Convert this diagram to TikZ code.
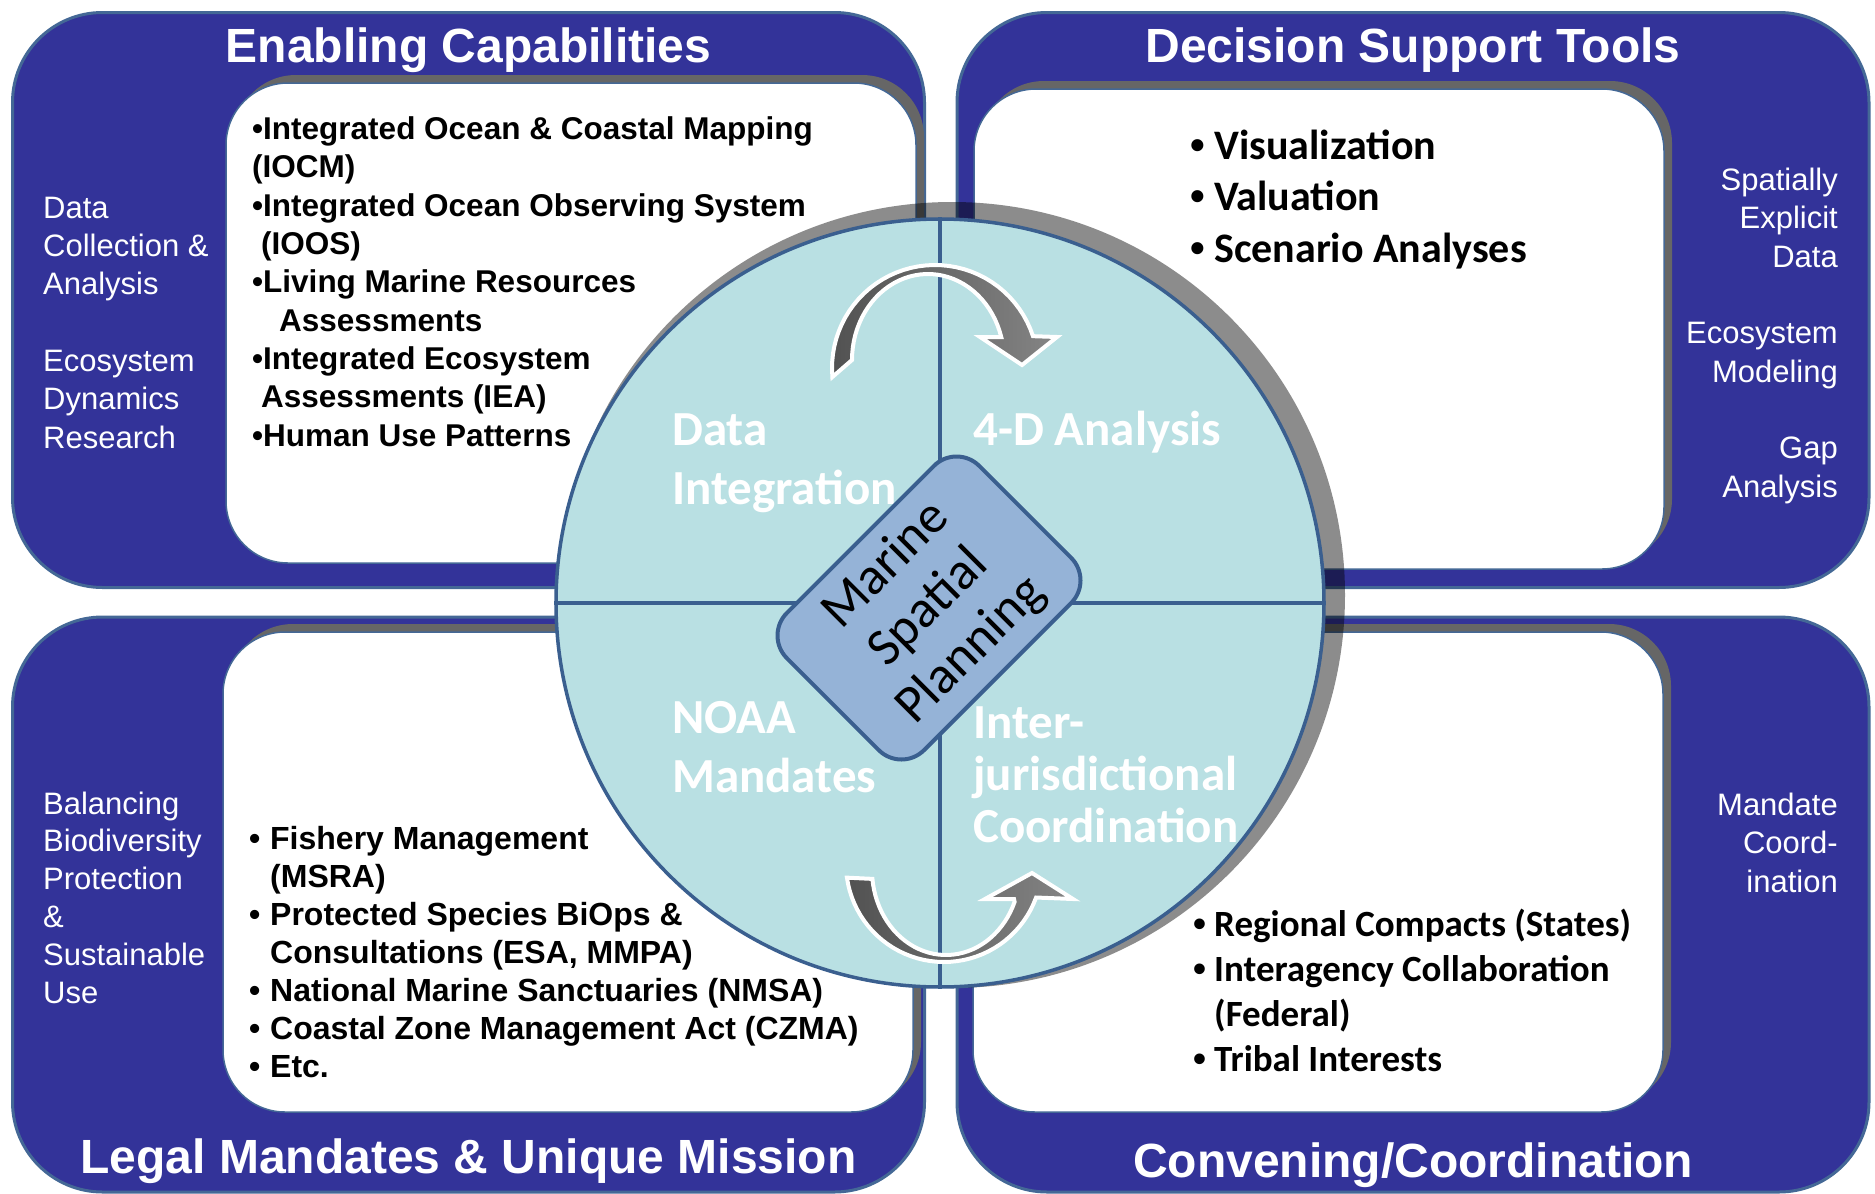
\documentclass[tikz,border=0pt]{standalone}
\usepackage{fontspec}
\setmainfont{Liberation Sans}
\newfontfamily\calib{Carlito}
\usepackage{tikz}
\usetikzlibrary{shapes,positioning,calc}

\definecolor{panelblue}{RGB}{51,51,153}
\definecolor{paneledge}{RGB}{68,104,150}
\definecolor{wheelfill}{RGB}{185,224,227}
\definecolor{wheeledge}{RGB}{58,95,143}
\definecolor{mspfill}{RGB}{149,179,215}

\begin{document}
\begin{tikzpicture}[
    x=1pt, y=-1pt,
    panel/.style={rectangle, draw=paneledge, line width=3pt, fill=panelblue, rounded corners=90pt, minimum width=912pt, minimum height=575pt},
    whitebox/.style={rectangle, draw=paneledge, line width=1.5pt, fill=white, rounded corners=62pt, minimum width=690pt, minimum height=480pt},
    boxshadow/.style={whitebox, draw=none, fill=black!60},
    title/.style={anchor=base, text=white, font=\bfseries\fontsize{48}{58}\selectfont},
    side/.style={anchor=base west, align=left, text=white, inner sep=0pt, font=\fontsize{31}{38.3}\selectfont},
    sideright/.style={side, anchor=base east, align=right},
    items/.style={anchor=base west, align=left, inner sep=0pt, font=\bfseries\fontsize{31.5}{38.3}\selectfont},
    calitems/.style={items, font=\calib\bfseries\fontsize{42}{51.5}\selectfont},
    quarter/.style={anchor=base west, align=left, inner sep=0pt, text=white, font=\calib\bfseries\fontsize{49}{59}\selectfont},
    turn/.style={draw=white, line width=4pt, left color=black!68, right color=black!48}
]
\fill[white] (0,0) rectangle (1875,1194);
\useasboundingbox (0,0) rectangle (1875,1194);

% four panels
\node[panel] (tl) at (468.5,300) {};
\node[panel] (tr) at (1413,300) {};
\node[panel] (bl) at (468.5,904.5) {};
\node[panel] (br) at (1413,904.5) {};

\node[title] (tltitle) at ($(tl.north)+(0,51)$) {Enabling Capabilities};
\node[title] (trtitle) at ($(tr.north)+(0,51)$) {Decision Support Tools};
\node[title] (bltitle) at ($(bl.south)+(0,-20)$) {Legal Mandates \& Unique Mission};
\node[title] (brtitle) at ($(br.south)+(0,-16)$) {Convening/Coordination};

% white boxes
\node[boxshadow] (tlshadow) at (579,315) {};
\node[whitebox] (tlbox) at (571,323) {};
\node[boxshadow] (trshadow) at (1327,321) {};
\node[whitebox] (trbox) at (1319,329) {};
\node[boxshadow] (blshadow) at (576,864) {};
\node[whitebox] (blbox) at (568,872) {};
\node[boxshadow] (brshadow) at (1326,864) {};
\node[whitebox] (brbox) at (1318,872) {};

% side labels (placed at the baseline of their last line)
\node[side] (tlside) at (43,448) {Data\\Collection \&\\Analysis\\[38.3pt]Ecosystem\\Dynamics\\Research};
\node[sideright] (trside) at (1838,497) {Spatially\\Explicit\\Data\\[38.3pt]Ecosystem\\Modeling\\[38.3pt]Gap\\Analysis};
\node[side, font=\fontsize{31}{37.8}\selectfont] (blside) at (43,1003) {Balancing\\Biodiversity\\Protection\\\&\\Sustainable\\Use};
\node[sideright] (brside) at (1838,892) {Mandate\\Coord-\\ination};

% box contents
\node[items] (tllist) at (252,446) {•Integrated Ocean \& Coastal Mapping\\(IOCM)\\•Integrated Ocean Observing System\\\hspace*{9pt}(IOOS)\\•Living Marine Resources\\\hspace*{27pt}Assessments\\•Integrated Ecosystem\\\hspace*{9pt}Assessments (IEA)\\•Human Use Patterns};
\node[calitems] (trlist) at (1190,262) {\makebox[24pt][l]{\rmfamily •}Visualization\\\makebox[24pt][l]{\rmfamily •}Valuation\\\makebox[24pt][l]{\rmfamily •}Scenario Analyses};
\node[items, font=\bfseries\fontsize{32}{38}\selectfont] (bllist) at (249,1077) {\makebox[21pt][l]{•}Fishery Management\\\hspace*{21pt}(MSRA)\\\makebox[21pt][l]{•}Protected Species BiOps \&\\\hspace*{21pt}Consultations (ESA, MMPA)\\\makebox[21pt][l]{•}National Marine Sanctuaries (NMSA)\\\makebox[21pt][l]{•}Coastal Zone Management Act (CZMA)\\\makebox[21pt][l]{•}Etc.};
\node[calitems, font=\calib\bfseries\fontsize{37}{44.7}\selectfont] (brlist) at (1193,1071) {\makebox[21pt][l]{\rmfamily •}Regional Compacts (States)\\\makebox[21pt][l]{\rmfamily •}Interagency Collaboration\\\hspace*{21pt}(Federal)\\\makebox[21pt][l]{\rmfamily •}Tribal Interests};

% the wheel
\node[circle, fill=black, opacity=0.45, minimum size=786pt, inner sep=0pt] (wheelshadow) at (952,595) {};
\node[circle, draw=wheeledge, line width=3.5pt, fill=wheelfill, minimum size=768pt, inner sep=0pt] (wheel) at (940,603) {};
\draw[wheeledge, line width=3.5pt] (wheel.north) -- (wheel.south);
\draw[wheeledge, line width=3.5pt] (wheel.west) -- (wheel.east);

\node[quarter] (dataint) at (672,504) {Data\\Integration};
\node[quarter] (fourd) at (973,445) {4-D Analysis};
\node[quarter] (noaa) at (672,792) {NOAA\\Mandates};
\node[quarter, font=\calib\bfseries\fontsize{49}{52}\selectfont] (interj) at (973,842) {Inter-\\jurisdictional\\Coordination};

% turning arrows
\draw[turn] plot[domain=175:342, samples=40] ({935+103*cos(\x)},{368+103*sin(\x)}) -- (1057,337) -- (1022,365) -- (980,337) -- (1001,337) -- plot[domain=-15.5:-180, samples=40] ({928+76*cos(\x)},{360+86*sin(\x)}) -- cycle;
\draw[turn] plot[domain=172:20, samples=40] ({944+98*cos(\x)},{864+98*sin(\x)}) -- (1073,899) -- (1032,873) -- (985,899) -- (1014,899) -- plot[domain=22:174, samples=40] ({946+74*cos(\x)},{870+85*sin(\x)}) -- cycle;

% centre
\node[rectangle, rounded corners=32pt, rotate=45, draw=wheeledge, line width=4pt, fill=mspfill, minimum width=272pt, minimum height=194pt, align=center, font=\calib\fontsize{53}{60}\selectfont] (msp) at (929,608) {Marine\\Spatial\\Planning};

\end{tikzpicture}
\end{document}
